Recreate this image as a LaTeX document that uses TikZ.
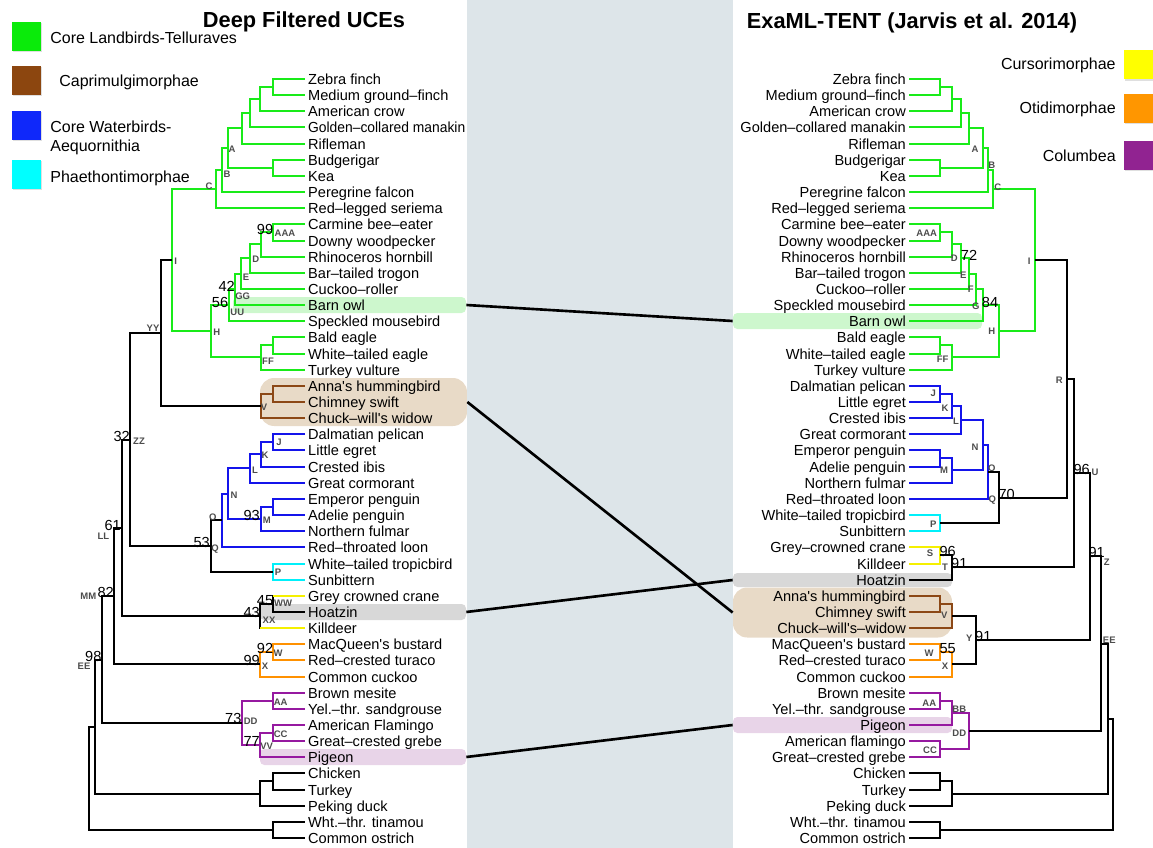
\documentclass[tikz,border=0pt]{standalone}
\usepackage{fontspec}
\setmainfont{Liberation Sans}
\usetikzlibrary{shadows}

\definecolor{cladeG}{RGB}{25,235,25}
\definecolor{cladeBr}{RGB}{140,72,22}
\definecolor{cladeB}{RGB}{20,20,235}
\definecolor{cladeC}{RGB}{0,240,250}
\definecolor{cladeY}{RGB}{245,240,0}
\definecolor{cladeO}{RGB}{255,145,0}
\definecolor{cladeP}{RGB}{150,25,160}
\definecolor{boxG}{RGB}{10,235,10}
\definecolor{boxBr}{RGB}{140,70,15}
\definecolor{boxB}{RGB}{15,40,250}
\definecolor{boxC}{RGB}{0,255,255}
\definecolor{boxY}{RGB}{255,255,0}
\definecolor{boxO}{RGB}{255,150,0}
\definecolor{boxP}{RGB}{145,35,145}
\definecolor{hlG}{RGB}{205,247,205}
\definecolor{hlBr}{RGB}{232,218,199}
\definecolor{hlGr}{RGB}{216,216,216}
\definecolor{hlP}{RGB}{232,212,232}
\definecolor{midband}{RGB}{221,229,233}

\newcommand{\px}{0.02cm}
\newcommand{\tipfont}{\fontsize{8.3}{9}\selectfont}
\newcommand{\apos}{\textquotesingle{}}

\begin{document}
\begin{tikzpicture}[
        x=0.02cm, y=-0.02cm,
        tipL/.style={anchor=west, inner xsep=1.6pt, inner ysep=0pt, text height=6pt, text depth=0pt, font=\tipfont},
        tipR/.style={tipL, anchor=east},
        nlab/.style={inner sep=0pt, text height=3.9pt, text depth=0pt, text=black!70, font=\fontsize{5.4}{6}\selectfont\bfseries},
        bsv/.style={inner sep=0pt, text height=6pt, text depth=0pt, font=\tipfont},
        tK/.style={draw=black, line width=0.04cm},
        tG/.style={draw=cladeG, line width=0.04cm},
        tBr/.style={draw=cladeBr, line width=0.04cm},
        tB/.style={draw=cladeB, line width=0.04cm},
        tC/.style={draw=cladeC, line width=0.04cm},
        tY/.style={draw=cladeY, line width=0.04cm},
        tO/.style={draw=cladeO, line width=0.04cm},
        tP/.style={draw=cladeP, line width=0.04cm},
        hband/.style={inner sep=0pt, rounded corners=2.5pt, minimum height=16*\px},
        link/.style={draw=black, line width=1.5pt},
        legbox/.style={inner sep=0pt, minimum size=29*\px, drop shadow={shadow xshift=0.7pt, shadow yshift=-0.7pt, opacity=0.25}},
        legtxt/.style={inner sep=0pt, font=\fontsize{9.1}{10.8}\selectfont},
        ttl/.style={inner sep=0pt, font=\fontsize{12.4}{14}\selectfont\bfseries}
    ]
    \useasboundingbox (0,0) rectangle (1153,848);

    % Highlighted taxa (left tree)
    \node[hband, fill=hlG, minimum width=233*\px] (owlL) at (349.5,305) {};
    \node[hband, fill=hlBr, rounded corners=8pt, minimum width=207*\px, minimum height=48*\px] (capL) at (363.5,402) {};
    \node[hband, fill=hlGr, minimum width=206*\px] (hoaL) at (363,612) {};
    \node[hband, fill=hlP, minimum width=206*\px] (pigL) at (363,757) {};
    % Highlighted taxa (right tree)
    \node[hband, fill=hlG, minimum width=249*\px] (owlR) at (857.5,321) {};
    \node[hband, fill=hlGr, minimum width=219*\px, minimum height=14*\px] (hoaR) at (842.5,580) {};
    \node[hband, fill=hlBr, rounded corners=8pt, minimum width=219*\px, minimum height=50*\px] (capR) at (842.5,612.5) {};
    \node[hband, fill=hlP, minimum width=219*\px] (pigR) at (842.5,725) {};

    % Tip labels, Deep Filtered UCEs
    \foreach \n [count=\i from 0] in {Zebra finch, Medium ground–finch, American crow, \scalebox{0.95}[1]{Golden–collared manakin}, Rifleman, Budgerigar, Kea, Peregrine falcon, Red–legged seriema, Carmine bee–eater, Downy woodpecker, Rhinoceros hornbill, Bar–tailed trogon, Cuckoo–roller, Barn owl, Speckled mousebird, Bald eagle, White–tailed eagle, Turkey vulture, Anna\apos s hummingbird, Chimney swift, Chuck–will\apos s widow, Dalmatian pelican, Little egret, Crested ibis, Great cormorant, Emperor penguin, Adelie penguin, Northern fulmar, Red–throated loon, White–tailed tropicbird, Sunbittern, Grey crowned crane, Hoatzin, Killdeer, MacQueen\apos s bustard, Red–crested turaco, Common cuckoo, Brown mesite, Yel.–thr. sandgrouse, American Flamingo, Great–crested grebe, Pigeon, Chicken, Turkey, Peking duck, Wht.–thr. tinamou, Common ostrich}
        \node[tipL] (l\i) at (305,{round(79.01+16.15*\i)}) {\n};

    % Tip labels, ExaML-TENT
    \foreach \n [count=\i from 0] in {Zebra finch, Medium ground–finch, American crow, Golden–collared manakin, Rifleman, Budgerigar, Kea, Peregrine falcon, Red–legged seriema, Carmine bee–eater, Downy woodpecker, Rhinoceros hornbill, Bar–tailed trogon, Cuckoo–roller, Speckled mousebird, Barn owl, Bald eagle, White–tailed eagle, Turkey vulture, Dalmatian pelican, Little egret, Crested ibis, Great cormorant, Emperor penguin, Adelie penguin, Northern fulmar, Red–throated loon, White–tailed tropicbird, Sunbittern, Grey–crowned crane, Killdeer, Hoatzin, Anna\apos s hummingbird, Chimney swift, Chuck–will\apos s–widow, MacQueen\apos s bustard, Red–crested turaco, Common cuckoo, Brown mesite, Yel.–thr. sandgrouse, Pigeon, American flamingo, Great–crested grebe, Chicken, Turkey, Peking duck, Wht.–thr. tinamou, Common ostrich}
        \node[tipR] (r\i) at (909,{round(79.01+16.15*\i)}) {\n};

    % Internal nodes, left tree
    \foreach \n/\x/\y in {lZM/273/87, lZMC/260/99, lZMCG/250/113, lPass/242/128, lBK/273/168, lA/228/148, lB/222/170, lC/216/189,
        lAAA/273/232, lD/261/244, lE/250/258, lGG/241/274, lUU/235/289, lOM/229/305, lEag/273/345, lFF/261/357, lH/211/331, lI/172/260,
        lHS/273/394, lV/261/406, lYY/161/333, lJ/273/442, lK/261/454, lL/250/468, lEA/273/507, lM/261/519, lN/228/494, lO/222/520,
        lP/273/572, lQ/211/546, lZZ/130/440, lWW/273/604, lXX/260/616, lLL/122/528, lW/273/652, lX/260/664, lMM/114/596,
        lAA/273/701, lCC/273/733, lVV/260/745, lDD/242/723, lEE/102/660, lCT/273/781, lGal/260/794, lNeo/95/727, lPal/273/830, lRoot/89/778}
        \coordinate (\n) at (\x,\y);

    % Internal nodes, right tree
    \foreach \n/\x/\y in {rZM/940/87, rZMC/952/99, rZMCG/961/113, rPass/969/128, rBK/940/168, rA/983/148, rB/988/170, rC/993/189,
        rAAA/940/232, rD/952/244, rE/961/258, rF/969/274, rG/976/289, rGO/983/305, rEag/940/345, rFF/952/357, rH/999/331, rI/1035/260,
        rJ/940/394, rK/952/406, rL/961/420, rEA/940/458, rM/952/470, rN/983/445, rO/988/472, rP/940/523, rQ/999/498, rR/1067/379,
        rS/940/555, rT/952/567, rU/1074/473, rHS/940/604, rV/952/616, rW/940/652, rX/952/664, rY/976/640, rZ/1090/556,
        rAA/940/701, rBB/952/713, rCC/940/749, rDD/969/731, rEE/1101/644, rCT/940/781, rGal/952/794, rNeo/1108/719, rPal/940/830, rRoot/1113/774}
        \coordinate (\n) at (\x,\y);

    % Branches, left tree
    \foreach \p/\c in {lZM/l0.west, lZM/l1.west, lZMC/lZM, lZMC/l2.west, lZMCG/lZMC, lZMCG/l3.west, lPass/lZMCG, lPass/l4.west, lBK/l5.west, lBK/l6.west, lA/lPass, lA/lBK, lB/lA, lB/l7.west, lC/lB, lC/l8.west,
        lAAA/l9.west, lAAA/l10.west, lD/lAAA, lD/l11.west, lE/lD, lE/l12.west, lGG/lE, lGG/l13.west, lUU/lGG, lUU/l14.west, lOM/lUU, lOM/l15.west, lEag/l16.west, lEag/l17.west, lFF/lEag, lFF/l18.west, lH/lOM, lH/lFF, lI/lC, lI/lH}
        \draw[tG] (\p) |- (\c);
    \foreach \p/\c in {lHS/l19.west, lHS/l20.west, lV/lHS, lV/l21.west}
        \draw[tBr] (\p) |- (\c);
    \foreach \p/\c in {lJ/l22.west, lJ/l23.west, lK/lJ, lK/l24.west, lL/lK, lL/l25.west, lEA/l26.west, lEA/l27.west, lM/lEA, lM/l28.west, lN/lL, lN/lM, lO/lN, lO/l29.west}
        \draw[tB] (\p) |- (\c);
    \foreach \p/\c in {lP/l30.west, lP/l31.west}
        \draw[tC] (\p) |- (\c);
    \foreach \p/\c in {lW/l35.west, lW/l36.west, lX/lW, lX/l37.west}
        \draw[tO] (\p) |- (\c);
    \foreach \p/\c in {lAA/l38.west, lAA/l39.west, lCC/l40.west, lCC/l41.west, lVV/lCC, lVV/l42.west, lDD/lAA, lDD/lVV}
        \draw[tP] (\p) |- (\c);
    \foreach \p/\c in {lYY/lI, lYY/lV, lZZ/lYY, lZZ/lQ, lQ/lO, lQ/lP, lLL/lZZ, lLL/lXX, lXX/lWW, lWW/l33.west, lWW/l32.west, lXX/l34.west, lMM/lLL, lMM/lX,
        lEE/lMM, lEE/lDD, lNeo/lEE, lNeo/lGal, lGal/lCT, lGal/l45.west, lCT/l43.west, lCT/l44.west, lRoot/lNeo, lRoot/lPal, lPal/l46.west, lPal/l47.west}
        \draw[tK] (\p) |- (\c);
    \draw[tY] (lWW |- l32.west) -- (l32.west);
    \draw[tY] (lXX |- l34.west) -- (l34.west);

    % Branches, right tree
    \foreach \p/\c in {rZM/r0.east, rZM/r1.east, rZMC/rZM, rZMC/r2.east, rZMCG/rZMC, rZMCG/r3.east, rPass/rZMCG, rPass/r4.east, rBK/r5.east, rBK/r6.east, rA/rPass, rA/rBK, rB/rA, rB/r7.east, rC/rB, rC/r8.east,
        rAAA/r9.east, rAAA/r10.east, rD/rAAA, rD/r11.east, rE/rD, rE/r12.east, rF/rE, rF/r13.east, rG/rF, rG/r14.east, rGO/rG, rGO/r15.east, rEag/r16.east, rEag/r17.east, rFF/rEag, rFF/r18.east, rH/rGO, rH/rFF, rI/rC, rI/rH}
        \draw[tG] (\p) |- (\c);
    \foreach \p/\c in {rJ/r19.east, rJ/r20.east, rK/rJ, rK/r21.east, rL/rK, rL/r22.east, rEA/r23.east, rEA/r24.east, rM/rEA, rM/r25.east, rN/rL, rN/rM, rO/rN, rO/r26.east}
        \draw[tB] (\p) |- (\c);
    \foreach \p/\c in {rP/r27.east, rP/r28.east}
        \draw[tC] (\p) |- (\c);
    \foreach \p/\c in {rS/r29.east, rS/r30.east}
        \draw[tY] (\p) |- (\c);
    \foreach \p/\c in {rHS/r32.east, rHS/r33.east, rV/rHS, rV/r34.east}
        \draw[tBr] (\p) |- (\c);
    \foreach \p/\c in {rW/r35.east, rW/r36.east, rX/rW, rX/r37.east}
        \draw[tO] (\p) |- (\c);
    \foreach \p/\c in {rAA/r38.east, rAA/r39.east, rBB/rAA, rBB/r40.east, rCC/r41.east, rCC/r42.east, rDD/rBB, rDD/rCC}
        \draw[tP] (\p) |- (\c);
    \foreach \p/\c in {rQ/rO, rQ/rP, rR/rI, rR/rQ, rT/rS, rT/r31.east, rU/rR, rU/rT, rY/rV, rY/rX, rZ/rU, rZ/rY, rEE/rZ, rEE/rDD,
        rCT/r43.east, rCT/r44.east, rGal/rCT, rGal/r45.east, rNeo/rEE, rNeo/rGal, rPal/r46.east, rPal/r47.east, rRoot/rNeo, rRoot/rPal}
        \draw[tK] (\p) |- (\c);

    % Node names and support values, left tree
    \foreach \t/\x/\y [count=\k] in {A/232/149, B/227/174, C/209/186, I/175.7/261, AAA/285/233.5, D/255.7/259.3, E/246/277, GG/242.7/296, UU/237.3/311.7, H/216.7/332.3,
        FF/268/360.7, YY/153/328, V/264/406.7, ZZ/139/440.7, J/279/441.7, K/265/455, L/255/470, N/234/495, M/266.7/520, O/212.7/516.7, Q/215/547.7, P/278/572.3,
        LL/103.3/536, WW/283/603, XX/269/620, MM/88.3/595.7, W/278/653.3, X/265/666, EE/84/665.7, AA/280.7/701.7, DD/250.7/721, CC/280.7/734.3, VV/266.7/745.7}
        \node[nlab] (nl\k) at (\x,\y) {\t};
    \foreach \t/\x/\y [count=\k] in {99/265/229, 42/226.7/286, 56/220/302.3, 32/121.7/436, 93/251.7/515, 53/201.7/542.7, 61/112.7/525, 45/265/600,
        43/251.7/612.3, 82/105.7/592.3, 92/265/648.3, 99/251.7/660.7, 98/93.3/656, 73/233.3/718.3, 77/251.7/741.7}
        \node[bsv] (bl\k) at (\x,\y) {\t};

    % Node names and support values, right tree
    \foreach \t/\x/\y [count=\k] in {A/975/149, B/991.7/165, C/997.7/186.7, AAA/926.7/233.5, D/954.3/258.3, E/963.3/275, F/970.7/289, G/975.7/305.7, H/991.7/330.7,
        I/1029.3/261, FF/942.7/359, R/1059.3/380, J/933.3/393.3, K/945/408.3, L/956/420.7, N/975/446.7, M/944/470, O/991.7/468.3, U/1095/471.7, Q/992.3/499.3,
        P/933.3/524, S/930/553.3, T/945/567.3, Z/1106.7/561.7, V/944.3/615, Y/969.3/638.3, EE/1109.3/640, W/929/653.3, X/945/666, AA/929.3/703.3,
        BB/959.3/709, DD/959.3/732.7, CC/930/750}
        \node[nlab] (nr\k) at (\x,\y) {\t};
    \foreach \t/\x/\y [count=\k] in {72/969/255, 84/990/302.3, 96/1081.7/469.3, 70/1006.7/494.3, 96/947.7/551.7, 91/959.3/563.3, 91/1096.7/552.7, 91/983.3/636, 55/947.7/648.3}
        \node[bsv] (br\k) at (\x,\y) {\t};

    % Band between the two trees
    \fill[midband] (467,0) rectangle (733,848);

    % Taxa that move between the trees
    \draw[link] (owlL.east) -- (owlR.west);
    \draw[link] (capL.east) -- (capR.west);
    \draw[link] (hoaL.east) -- (hoaR.west);
    \draw[link] (pigL.east) -- (pigR.west);

    % Titles
    \node[ttl] (titleL) at (304,21.5) {Deep Filtered UCEs};
    \node[ttl] (titleR) at (912,22.5) {ExaML-TENT (Jarvis et al. 2014)};

    % Legend, left
    \node[legbox, fill=boxG] (kG) at (26.5,36.5) {};
    \node[legbox, fill=boxBr] (kBr) at (26.5,80.5) {};
    \node[legbox, fill=boxB] (kB) at (26.5,125.5) {};
    \node[legbox, fill=boxC] (kC) at (26.5,174.5) {};
    \node[legtxt, anchor=west] (tG) at (50,38) {Core Landbirds-Telluraves};
    \node[legtxt, anchor=west] (tBr) at (59,82) {Caprimulgimorphae};
    \node[legtxt, anchor=west, align=left] (tB) at (50,137.5) {Core Waterbirds-\\Aequornithia};
    \node[legtxt, anchor=west] (tC) at (50,178) {Phaethontimorphae};

    % Legend, right
    \node[legbox, fill=boxY] (kY) at (1138,65) {};
    \node[legbox, fill=boxO] (kO) at (1138,108.5) {};
    \node[legbox, fill=boxP] (kP) at (1138,155.5) {};
    \node[legtxt, anchor=east] (tY) at (1116,65) {Cursorimorphae};
    \node[legtxt, anchor=east] (tO) at (1116,109) {Otidimorphae};
    \node[legtxt, anchor=east] (tP) at (1116,156) {Columbea};

\end{tikzpicture}
\end{document}
